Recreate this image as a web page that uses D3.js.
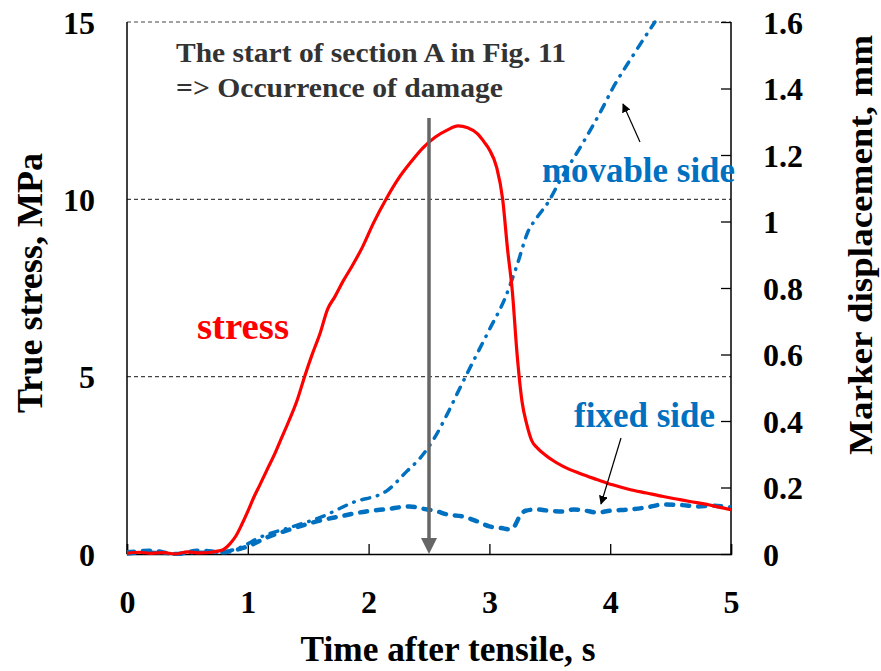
<!DOCTYPE html>
<html>
<head>
<meta charset="utf-8">
<script src="https://cdn.jsdelivr.net/npm/d3@7"></script>
<style>
  body { margin: 0; background: #fff; }
  text { font-family: "Liberation Serif", "Times New Roman", serif; font-weight: bold; }
</style>
</head>
<body>
<div id="chart"></div>
<script>
// Values
const stressTime = [0, 0.1, 0.2, 0.3, 0.4, 0.5, 0.6, 0.7, 0.75, 0.8, 0.85, 0.9, 0.95, 1.0, 1.05, 1.1, 1.16, 1.22, 1.27, 1.34, 1.41, 1.47, 1.53, 1.6, 1.66, 1.72, 1.79, 1.86, 1.95, 2.04, 2.15, 2.24, 2.35, 2.45, 2.55, 2.65, 2.74, 2.82, 2.9, 2.96, 3.0, 3.06, 3.11, 3.15, 3.19, 3.23, 3.27, 3.31, 3.35, 3.4, 3.46, 3.52, 3.61, 3.75, 3.89, 4.02, 4.16, 4.3, 4.44, 4.55, 4.66, 4.8, 4.9, 5.0];
const stressMPa = [0.02, 0.05, 0.02, 0.04, 0.0, 0.06, 0.03, 0.05, 0.08, 0.13, 0.28, 0.5, 0.83, 1.2, 1.6, 1.95, 2.38, 2.8, 3.2, 3.75, 4.35, 5.0, 5.6, 6.24, 6.9, 7.25, 7.7, 8.1, 8.66, 9.33, 10.04, 10.55, 11.05, 11.45, 11.75, 11.95, 12.07, 12.02, 11.85, 11.6, 11.4, 10.9, 10.0, 8.6, 7.4, 5.6, 4.3, 3.65, 3.2, 2.98, 2.8, 2.65, 2.47, 2.27, 2.1, 1.95, 1.82, 1.72, 1.62, 1.55, 1.48, 1.4, 1.32, 1.25];

const movableTime = [0, 0.2, 0.4, 0.6, 0.75, 0.85, 0.94, 1.1, 1.35, 1.6, 1.87, 2.15, 2.32, 2.43, 2.53, 2.65, 2.73, 2.86, 3.0, 3.13, 3.23, 3.32, 3.39, 3.49, 3.58, 3.78, 3.92, 4.02, 4.19, 4.37];
const movableMM = [0, 0.005, 0, 0.005, 0.005, 0.01, 0.02, 0.05, 0.08, 0.11, 0.155, 0.19, 0.25, 0.29, 0.34, 0.42, 0.48, 0.575, 0.675, 0.77, 0.87, 0.97, 1.01, 1.06, 1.12, 1.24, 1.33, 1.40, 1.50, 1.60];

const fixedTime = [0, 0.2, 0.4, 0.6, 0.8, 0.9, 1.0, 1.16, 1.35, 1.57, 1.76, 1.98, 2.15, 2.34, 2.45, 2.55, 2.65, 2.78, 2.9, 3.0, 3.1, 3.17, 3.21, 3.25, 3.3, 3.39, 3.5, 3.61, 3.7, 3.8, 3.89, 4.0, 4.16, 4.3, 4.44, 4.6, 4.72, 4.85, 5.0];
const fixedMM = [0.005, 0.01, 0.0, 0.01, 0.005, 0.012, 0.023, 0.05, 0.074, 0.098, 0.113, 0.128, 0.135, 0.143, 0.136, 0.13, 0.119, 0.113, 0.098, 0.083, 0.078, 0.074, 0.085, 0.113, 0.13, 0.134, 0.13, 0.128, 0.134, 0.13, 0.125, 0.13, 0.134, 0.14, 0.149, 0.147, 0.143, 0.145, 0.14];

const xTicks = [0, 1, 2, 3, 4, 5];
const leftTicks = [0, 5, 10, 15];
const rightTicks = [0, 0.2, 0.4, 0.6, 0.8, 1, 1.2, 1.4, 1.6];
const gridValues = [5, 10, 15];
const damageTime = 2.5;

const W = 881, H = 671;
const plotLeft = 127, plotRight = 731, plotTop = 22, plotBottom = 554;

const svg = d3.select('#chart').append('svg')
  .attr('width', W)
  .attr('height', H);

const x = d3.scaleLinear().domain([0, 5]).range([plotLeft, plotRight]);
const yL = d3.scaleLinear().domain([0, 15]).range([plotBottom, plotTop]);
const yR = d3.scaleLinear().domain([0, 1.6]).range([plotBottom, plotTop]);

const blue = '#0070C0';

// arrow markers
const defs = svg.append('defs');
defs.append('marker')
  .attr('id', 'blackHead')
  .attr('viewBox', '0 0 10 10')
  .attr('refX', 9).attr('refY', 5)
  .attr('markerWidth', 9).attr('markerHeight', 9)
  .attr('markerUnits', 'userSpaceOnUse')
  .attr('orient', 'auto')
  .append('path').attr('d', 'M0,0 L10,5 L0,10 Z').attr('fill', '#000');
defs.append('clipPath').attr('id', 'plotClip')
  .append('rect')
  .attr('x', plotLeft).attr('y', plotTop - 2)
  .attr('width', plotRight - plotLeft).attr('height', plotBottom - plotTop + 4);

// dashed gridlines (including top border at 15)
svg.append('g').selectAll('line')
  .data(gridValues)
  .enter().append('line')
  .attr('x1', plotLeft).attr('x2', plotRight)
  .attr('y1', d => yL(d)).attr('y2', d => yL(d))
  .attr('stroke', '#444')
  .attr('stroke-width', 1.2)
  .attr('stroke-dasharray', '4,3');

// left and right frame
svg.append('line').attr('x1', plotLeft).attr('x2', plotLeft).attr('y1', plotTop).attr('y2', plotBottom)
  .attr('stroke', '#000').attr('stroke-width', 1.5);
svg.append('line').attr('x1', plotRight).attr('x2', plotRight).attr('y1', plotTop).attr('y2', plotBottom)
  .attr('stroke', '#000').attr('stroke-width', 1.5);

// bottom axis, ticks pointing in
const xAxis = d3.axisBottom(x).tickValues(xTicks).tickSize(-10).tickPadding(36).tickFormat(d3.format('d'));
const gx = svg.append('g').attr('transform', `translate(0,${plotBottom})`).call(xAxis);
gx.select('.domain').attr('stroke', '#000').attr('stroke-width', 1.5);
gx.selectAll('.tick line').attr('stroke', '#000').attr('stroke-width', 1.3);
gx.selectAll('text').attr('font-size', 32).attr('fill', '#000')
  .attr('font-family', '"Liberation Serif", serif').attr('font-weight', 'bold');

// left axis labels only
const yAxisL = d3.axisLeft(yL).tickValues(leftTicks).tickSize(0).tickPadding(32).tickFormat(d3.format('d'));
const gl = svg.append('g').attr('transform', `translate(${plotLeft},0)`).call(yAxisL);
gl.select('.domain').remove();
gl.selectAll('text').attr('font-size', 32).attr('fill', '#000').attr('dy', '0.35em')
  .attr('font-family', '"Liberation Serif", serif').attr('font-weight', 'bold');

// right axis, ticks pointing in
const yAxisR = d3.axisRight(yR).tickValues(rightTicks).tickSize(-10).tickPadding(32).tickFormat(d => d3.format('~g')(d));
const gr = svg.append('g').attr('transform', `translate(${plotRight},0)`).call(yAxisR);
gr.select('.domain').remove();
gr.selectAll('.tick line').attr('stroke', '#000').attr('stroke-width', 1.3);
gr.selectAll('text').attr('font-size', 32).attr('fill', '#000').attr('dy', '0.35em')
  .attr('font-family', '"Liberation Serif", serif').attr('font-weight', 'bold');

// series
const plot = svg.append('g').attr('clip-path', 'url(#plotClip)');

const stressLine = d3.line()
  .x((d, i) => x(stressTime[i]))
  .y(d => yL(d))
  .curve(d3.curveMonotoneX);

const movLine = d3.line()
  .x((d, i) => x(movableTime[i]))
  .y(d => yR(d))
  .curve(d3.curveMonotoneX);

const fixLine = d3.line()
  .x((d, i) => x(fixedTime[i]))
  .y(d => yR(d))
  .curve(d3.curveMonotoneX);

plot.append('path')
  .datum(fixedMM)
  .attr('d', fixLine)
  .attr('fill', 'none')
  .attr('stroke', blue)
  .attr('stroke-width', 4.5)
  .attr('stroke-linecap', 'round')
  .attr('stroke-dasharray', '7,9');

plot.append('path')
  .datum(movableMM)
  .attr('d', movLine)
  .attr('fill', 'none')
  .attr('stroke', blue)
  .attr('stroke-width', 3.5)
  .attr('stroke-linecap', 'round')
  .attr('stroke-dasharray', '8,8,0.5,8');

plot.append('path')
  .datum(stressMPa)
  .attr('d', stressLine)
  .attr('fill', 'none')
  .attr('stroke', '#ff0000')
  .attr('stroke-width', 3.2);

// gray damage arrow
const ax = x(damageTime);
svg.append('line')
  .attr('x1', ax).attr('x2', ax)
  .attr('y1', 118).attr('y2', plotBottom - 14)
  .attr('stroke', '#666').attr('stroke-width', 3.5);
svg.append('path')
  .attr('d', `M${ax - 8},${plotBottom - 16} L${ax + 8},${plotBottom - 16} L${ax},${plotBottom} Z`)
  .attr('fill', '#666');

// annotation text
svg.append('text')
  .attr('x', 176).attr('y', 62)
  .attr('font-size', 28).attr('fill', '#333')
  .attr('textLength', 390).attr('lengthAdjust', 'spacingAndGlyphs')
  .text('The start of section A in Fig. 11');
svg.append('text')
  .attr('x', 176).attr('y', 97)
  .attr('font-size', 28).attr('fill', '#333')
  .attr('textLength', 327).attr('lengthAdjust', 'spacingAndGlyphs')
  .text('=> Occurrence of damage');

svg.append('text')
  .attr('x', 197).attr('y', 339)
  .attr('font-size', 37).attr('fill', '#ff0000')
  .attr('textLength', 92).attr('lengthAdjust', 'spacingAndGlyphs')
  .text('stress');

svg.append('text')
  .attr('x', 542).attr('y', 182)
  .attr('font-size', 35).attr('fill', blue)
  .attr('textLength', 193).attr('lengthAdjust', 'spacingAndGlyphs')
  .text('movable side');

svg.append('text')
  .attr('x', 574).attr('y', 427)
  .attr('font-size', 35).attr('fill', blue)
  .attr('textLength', 141).attr('lengthAdjust', 'spacingAndGlyphs')
  .text('fixed side');

// small pointer arrows
svg.append('line')
  .attr('x1', 640).attr('y1', 142).attr('x2', 623).attr('y2', 104)
  .attr('stroke', '#000').attr('stroke-width', 1.2)
  .attr('marker-end', 'url(#blackHead)');
svg.append('line')
  .attr('x1', 621).attr('y1', 438).attr('x2', 601).attr('y2', 504)
  .attr('stroke', '#000').attr('stroke-width', 1.2)
  .attr('marker-end', 'url(#blackHead)');

// axis titles
svg.append('text')
  .attr('transform', 'translate(42,283) rotate(-90)')
  .attr('text-anchor', 'middle')
  .attr('font-size', 35).attr('fill', '#000')
  .attr('textLength', 260).attr('lengthAdjust', 'spacingAndGlyphs')
  .text('True stress, MPa');

svg.append('text')
  .attr('transform', 'translate(872,245) rotate(-90)')
  .attr('text-anchor', 'middle')
  .attr('font-size', 34).attr('fill', '#000')
  .attr('textLength', 420).attr('lengthAdjust', 'spacingAndGlyphs')
  .text('Marker displacement, mm');

svg.append('text')
  .attr('x', 448).attr('y', 661)
  .attr('text-anchor', 'middle')
  .attr('font-size', 35).attr('fill', '#000')
  .attr('textLength', 295).attr('lengthAdjust', 'spacingAndGlyphs')
  .text('Time after tensile, s');
</script>
</body>
</html>
